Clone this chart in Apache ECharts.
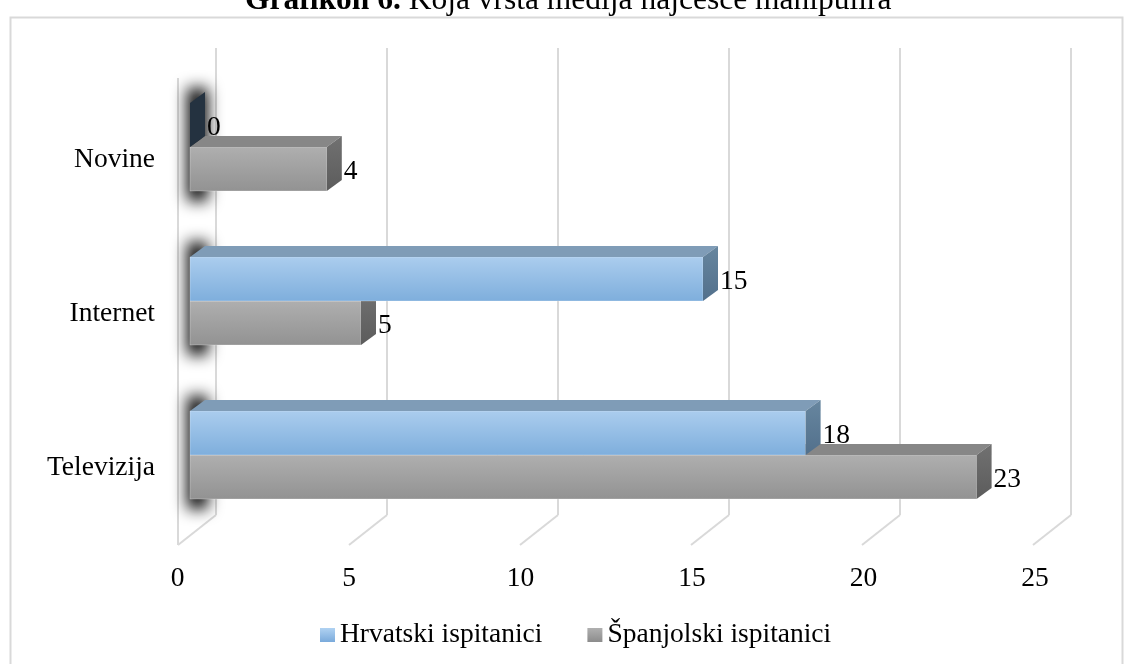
<!DOCTYPE html>
<html>
<head>
<meta charset="utf-8">
<title>Grafikon 6</title>
<script src="https://cdn.jsdelivr.net/npm/echarts@6/dist/echarts.min.js"></script>
<style>
  html, body { margin: 0; padding: 0; background: #fff; }
  #chart { width: 1125px; height: 664px; }
</style>
</head>
<body>
<div id="chart"></div>
<script>
// podaci
var categories = ['Novine', 'Internet', 'Televizija'];
var hrvatski = [0, 15, 18];
var spanjolski = [4, 5, 23];
var xTicks = [0, 5, 10, 15, 20, 25];
var seriesNames = ['Hrvatski ispitanici', 'Španjolski ispitanici'];

var FONT = '"Liberation Serif", "Times New Roman", serif';
var FS = 27.5;
// dubina 3D stupca
var DX = 15, DY = -11;
// pomak prednjeg ruba poda
var FX = -38, FY = 30;

var myChart = echarts.init(document.getElementById('chart'));

function vgrad(a, b) {
  return new echarts.graphic.LinearGradient(0, 0, 0, 1, [
    { offset: 0, color: a },
    { offset: 1, color: b }
  ]);
}

var blueFaces = {
  front: vgrad('#abcdee', '#7eaedc'),
  top: '#7f9cb7',
  side: vgrad('#67869f', '#52708c'),
  sideZero: '#243240'
};
var grayFaces = {
  front: vgrad('#afafaf', '#929292'),
  top: '#878787',
  side: vgrad('#717171', '#5c5c5c'),
  sideZero: '#3a3a3a'
};

function barRenderer(upper, faces, withShadow) {
  return function (params, api) {
    var val = api.value(0);
    var cat = api.value(1);
    var p0 = api.coord([0, cat]);
    var p1 = api.coord([val, cat]);
    var band = api.size([0, 1])[1];
    var h = band * 0.2857;
    var x0 = p0[0], x1 = p1[0];
    var y0 = upper ? p0[1] - h : p0[1];
    var children = [];

    if (withShadow) {
      // sjena na lijevom zidu (oblik je izvan platna, vidi se samo zamućena sjena)
      var gTop = p0[1] - h + DY;
      var gBot = p0[1] + h;
      children.push({
        type: 'rect',
        shape: { x: x0 - 3 - 3000, y: gTop - 4, width: DX + 6, height: gBot - gTop + 14 },
        style: {
          fill: '#000',
          shadowBlur: 15,
          shadowColor: 'rgba(10,10,10,1)',
          shadowOffsetX: 3000
        }
      });
    }

    if (x1 - x0 > 0.5) {
      children.push({
        type: 'rect',
        shape: { x: x0, y: y0, width: x1 - x0, height: h },
        style: { fill: faces.front, stroke: 'rgba(255,255,255,0.25)', lineWidth: 1 }
      });
      children.push({
        type: 'polygon',
        shape: { points: [[x0, y0], [x1, y0], [x1 + DX, y0 + DY], [x0 + DX, y0 + DY]] },
        style: { fill: faces.top }
      });
    }
    children.push({
      type: 'polygon',
      shape: { points: [[x1, y0], [x1 + DX, y0 + DY], [x1 + DX, y0 + h + DY], [x1, y0 + h]] },
      style: { fill: val === 0 ? faces.sideZero : faces.side }
    });
    children.push({
      type: 'text',
      x: x1 + 17,
      y: y0 + h / 2 + 3,
      style: {
        text: String(val),
        fill: '#000',
        fontSize: FS,
        fontFamily: FONT,
        align: 'left',
        verticalAlign: 'middle'
      }
    });
    return { type: 'group', children: children };
  };
}

function floorRenderer(params, api) {
  var v = api.value(0);
  var pb = api.coord([v, 0]);
  var children = [{
    type: 'line',
    shape: { x1: pb[0], y1: pb[1], x2: pb[0] + FX, y2: pb[1] + FY },
    style: { stroke: '#d9d9d9', lineWidth: 2 }
  }];
  if (v === 0) {
    var pt = api.coord([v, 1]);
    children.push({
      type: 'line',
      shape: { x1: pt[0] + FX, y1: pt[1] + FY, x2: pb[0] + FX, y2: pb[1] + FY },
      style: { stroke: '#d9d9d9', lineWidth: 2 }
    });
  }
  return { type: 'group', children: children };
}

var option = {
  backgroundColor: '#fff',
  animation: false,
  title: {
    text: '{b|Grafikon 6.} Koja vrsta medija najčešće manipulira',
    left: 245,
    top: -15,
    padding: 0,
    textStyle: {
      fontSize: 31.5,
      fontWeight: 'normal',
      fontFamily: FONT,
      color: '#000',
      rich: {
        b: { fontSize: 31.5, fontWeight: 'bold', fontFamily: FONT, color: '#000' }
      }
    }
  },
  graphic: [{
    type: 'rect',
    left: 8,
    top: 15,
    shape: { width: 1112, height: 660 },
    style: { fill: 'none', stroke: '#d9d9d9', lineWidth: 2 },
    z: -10
  }],
  legend: {
    data: seriesNames,
    left: 320,
    top: 621,
    padding: 0,
    icon: 'rect',
    itemWidth: 15,
    itemHeight: 14,
    itemGap: 45,
    textStyle: { fontSize: FS, fontFamily: FONT, color: '#000' }
  },
  grid: [
    // zadnji zid
    { left: 216, right: 54, top: 48, bottom: 149 },
    // stupci
    { left: 190, right: 80, top: 70, bottom: 132 },
    // oznake na prednjem rubu poda
    { left: 177.5, right: 90, top: 78, bottom: 119 }
  ],
  xAxis: [
    {
      gridIndex: 0, type: 'value', min: 0, max: 25, interval: 5,
      axisLine: { show: false }, axisTick: { show: false }, axisLabel: { show: false },
      splitLine: { show: true, lineStyle: { color: '#d9d9d9', width: 2 } }
    },
    {
      gridIndex: 1, type: 'value', min: 0, max: 25, interval: 5, show: false
    },
    {
      gridIndex: 2, type: 'value', min: 0, max: 25, interval: 5,
      axisLine: { show: false }, axisTick: { show: false }, splitLine: { show: false },
      axisLabel: { margin: 20, fontSize: FS, fontFamily: FONT, color: '#000' }
    }
  ],
  yAxis: [
    { gridIndex: 0, type: 'value', min: 0, max: 1, show: false },
    {
      gridIndex: 1, type: 'category', data: categories, inverse: true,
      axisLine: { show: false }, axisTick: { show: false }, splitLine: { show: false },
      axisLabel: {
        margin: 35, fontSize: FS, fontFamily: FONT, color: '#000',
        verticalAlign: 'top', lineHeight: 26
      }
    },
    { gridIndex: 2, type: 'value', min: 0, max: 1, show: false }
  ],
  series: [
    {
      name: 'pod',
      type: 'custom',
      xAxisIndex: 0, yAxisIndex: 0,
      silent: true,
      z: 1,
      data: xTicks.map(function (v) { return [v, 0]; }),
      renderItem: floorRenderer
    },
    {
      name: seriesNames[1],
      type: 'custom',
      xAxisIndex: 1, yAxisIndex: 1,
      z: 2,
      itemStyle: { color: vgrad('#b0b0b0', '#8c8c8c') },
      data: spanjolski.map(function (v, i) { return [v, i]; }),
      renderItem: barRenderer(false, grayFaces, true)
    },
    {
      name: seriesNames[0],
      type: 'custom',
      xAxisIndex: 1, yAxisIndex: 1,
      z: 3,
      itemStyle: { color: vgrad('#b0d2f2', '#7aaadb') },
      data: hrvatski.map(function (v, i) { return [v, i]; }),
      renderItem: barRenderer(true, blueFaces, false)
    }
  ]
};

myChart.setOption(option);
</script>
</body>
</html>
